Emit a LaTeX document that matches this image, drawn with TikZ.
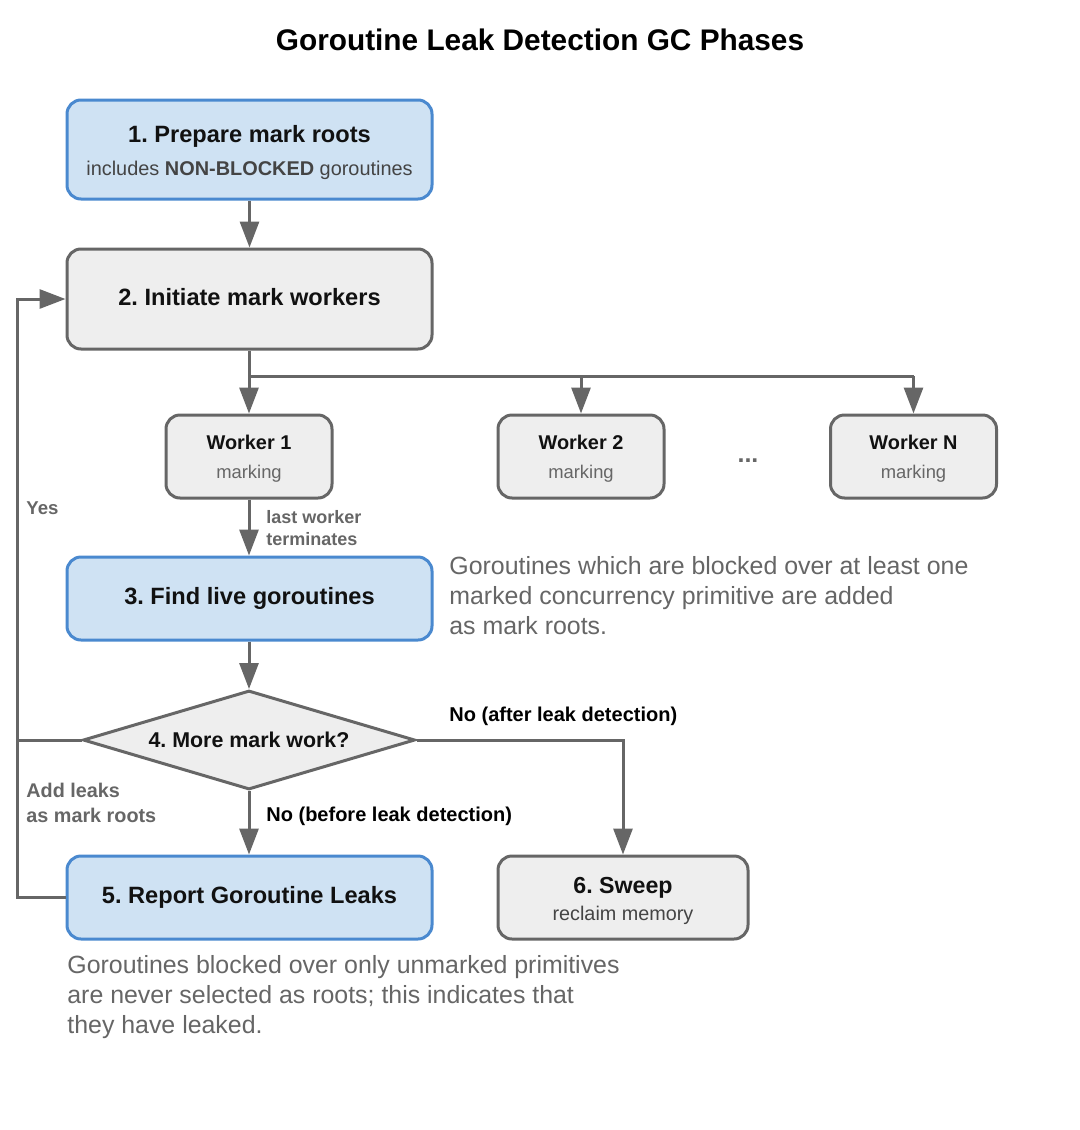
\documentclass[tikz,border=0pt]{standalone}
\usepackage{fontspec}
\setmainfont{Liberation Sans}
\usetikzlibrary{shapes.geometric,arrows.meta}
\definecolor{bluefill}{HTML}{CFE2F3}
\definecolor{blueline}{HTML}{4A89CF}
\definecolor{grayfill}{HTML}{EEEEEE}
\definecolor{grayline}{HTML}{666666}
\definecolor{txtgray}{HTML}{666666}
\definecolor{txtsub}{HTML}{444444}
\definecolor{txtdark}{HTML}{111111}
\frenchspacing
\tikzset{
  box/.style={draw=grayline, fill=grayfill, line width=1.5pt, rounded corners=7pt, inner sep=0pt, align=center, text=txtdark},
  bluebox/.style={box, draw=blueline, fill=bluefill},
  bigbox/.style={minimum width=182.5pt},
  workerbox/.style={box, minimum width=83pt, minimum height=41.5pt},
  conn/.style={draw=grayline, line width=1.5pt},
  arr/.style={conn, -{Triangle[length=13pt,width=9.5pt]}},
  lbl/.style={inner sep=0pt, font=\bfseries\fontsize{10}{12}\selectfont},
  note/.style={inner sep=0pt, align=left, text=txtgray, font=\fontsize{12.45}{15}\selectfont},
}
\begin{document}
\begin{tikzpicture}[x=0.5pt, y=-0.5pt]
\useasboundingbox[fill=white] (0,0) rectangle (1080,1130);
\node[inner sep=0pt, font=\bfseries\fontsize{14.9}{17}\selectfont] (title) at (540,40) {Goroutine Leak Detection GC Phases};

\node[bluebox, bigbox, minimum height=49.5pt] (b1) at (249.5,149.5)
  {\fontsize{11.8}{17}\selectfont\bfseries\rule{0pt}{11.8pt}1. Prepare mark roots\\[4.5pt]
   \fontsize{9.95}{17}\selectfont\color{txtsub}includes \textbf{NON-BLOCKED} goroutines};
\node[box, bigbox, minimum height=50pt] (b2) at (249.5,299)
  {\raisebox{2.5pt}{\fontsize{11.8}{13}\selectfont\bfseries 2. Initiate mark workers}};

\node[workerbox] (w1) at (249,456.5)
  {\fontsize{9.95}{15}\selectfont\bfseries\rule{0pt}{9.6pt}Worker 1\\[2.5pt] \fontsize{9.2}{15}\selectfont\color{txtgray}marking};
\node[workerbox] (w2) at (581,456.5)
  {\fontsize{9.95}{15}\selectfont\bfseries\rule{0pt}{9.6pt}Worker 2\\[2.5pt] \fontsize{9.2}{15}\selectfont\color{txtgray}marking};
\node[workerbox] (wn) at (913.5,456.5)
  {\fontsize{9.95}{15}\selectfont\bfseries\rule{0pt}{9.6pt}Worker N\\[2.5pt] \fontsize{9.2}{15}\selectfont\color{txtgray}marking};
\node[inner sep=0pt, font=\bfseries\fontsize{12.5}{13}\selectfont, text=grayline] (dots) at (748,461) {...};

\node[bluebox, bigbox, minimum height=41.5pt] (b3) at (249.5,598.5)
  {\fontsize{11.8}{13}\selectfont\bfseries 3. Find live goroutines};

\node[diamond, draw=grayline, fill=grayfill, line width=1.5pt, inner sep=0pt, aspect=3.35,
  minimum width=166pt, minimum height=49.5pt, font=\fontsize{10.7}{12}\selectfont\bfseries, text=txtdark] (d) at (249,740) {4. More mark work?};

\node[bluebox, bigbox, minimum height=41.5pt] (b5) at (249.5,897.5)
  {\fontsize{11.8}{13}\selectfont\bfseries 5. Report Goroutine Leaks};
\node[box, minimum width=125pt, minimum height=41.5pt] (b6) at (623,897.5)
  {\fontsize{11.6}{14}\selectfont\bfseries\rule{0pt}{11.6pt}6. Sweep\\[1.5pt] \fontsize{9.9}{14}\selectfont\color{txtsub}reclaim memory};

% notes
\node[note, anchor=north west] (n1) at (449,556)
  {Goroutines which are blocked over at least one\\marked concurrency primitive are added\\as mark roots.};
\node[note, anchor=north west] (n2) at (67,955)
  {Goroutines blocked over only unmarked primitives\\are never selected as roots; this indicates that\\they have leaked.};

% connectors
\draw[arr] (b1.south) -- (b2.north);
\coordinate (br) at (249,376);
\draw[conn] (b2.south -| br) -- (br) -- (br -| wn.north);
\draw[arr] (br) -- (w1.north);
\draw[arr] (br -| w2.north) -- (w2.north);
\draw[arr] (br -| wn.north) -- (wn.north);
\draw[arr] (w1.south) -- (b3.north -| w1.south);
\draw[arr] (b3.south -| d.north) -- (d.north);
\coordinate (lx) at (17,740);
\draw[arr] (d.west) -- (lx) |- (b2.west);
\draw[conn] (b5.west) -| (lx);
\draw[arr] (d.south) -- (b5.north -| d.south);
\draw[arr] (d.east) -| (b6.north);

% labels
\node[lbl, text=txtgray, anchor=west, align=left, font=\bfseries\fontsize{9}{11}\selectfont] (l1) at (266,528) {last worker\\terminates};
\node[lbl, text=txtgray, anchor=west, font=\bfseries\fontsize{9.3}{11}\selectfont] (l2) at (26,508) {Yes};
\node[lbl, text=txtgray, anchor=west, align=left, font=\bfseries\fontsize{9.9}{12.5}\selectfont] (l3) at (26,803) {Add leaks\\as mark roots};
\node[lbl, anchor=west] (l4) at (449,716) {No (after leak detection)};
\node[lbl, anchor=west] (l5) at (266,816) {No (before leak detection)};
\end{tikzpicture}
\end{document}
